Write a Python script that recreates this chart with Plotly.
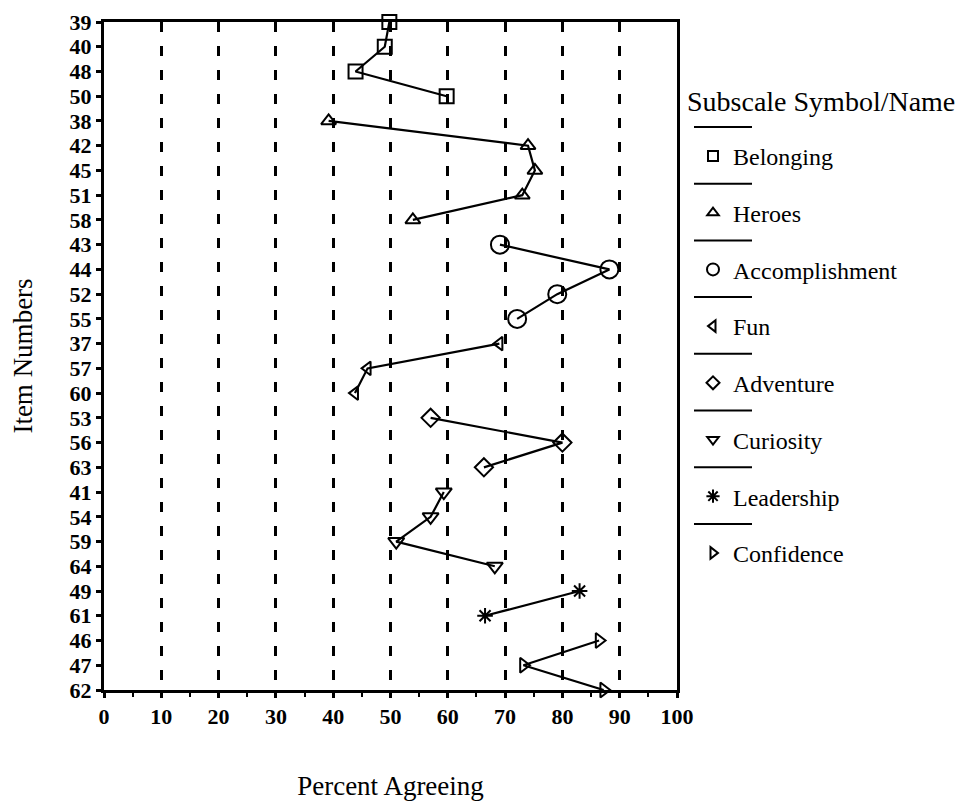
import plotly.graph_objects as go

# ---- data ----
item_order = ["39", "40", "48", "50", "38", "42", "45", "51", "58", "43", "44", "52", "55",
              "37", "57", "60", "53", "56", "63", "41", "54", "59", "64", "49", "61", "46", "47", "62"]

belonging_items = ["39", "40", "48", "50"]
belonging_pct = [49.8, 49.0, 43.9, 59.8]

heroes_items = ["38", "42", "45", "51", "58"]
heroes_pct = [39.2, 74.0, 75.2, 73.0, 53.9]

accomplishment_items = ["43", "44", "52", "55"]
accomplishment_pct = [69.1, 88.2, 79.1, 72.1]

fun_items = ["37", "57", "60"]
fun_pct = [69.0, 46.0, 43.8]

adventure_items = ["53", "56", "63"]
adventure_pct = [57.0, 80.0, 66.3]

curiosity_items = ["41", "54", "59", "64"]
curiosity_pct = [59.3, 57.0, 51.0, 68.2]

leadership_items = ["49", "61"]
leadership_pct = [83.0, 66.5]

confidence_items = ["46", "47", "62"]
confidence_pct = [86.4, 73.2, 87.2]

x_ticks = [0, 10, 20, 30, 40, 50, 60, 70, 80, 90, 100]

subscales = [
    ("Belonging", belonging_items, belonging_pct),
    ("Heroes", heroes_items, heroes_pct),
    ("Accomplishment", accomplishment_items, accomplishment_pct),
    ("Fun", fun_items, fun_pct),
    ("Adventure", adventure_items, adventure_pct),
    ("Curiosity", curiosity_items, curiosity_pct),
    ("Leadership", leadership_items, leadership_pct),
    ("Confidence", confidence_items, confidence_pct),
]

# ---- styles ----
symbols = {
    "Belonging": ("square-open", 14, 10),
    "Heroes": ("triangle-up-open", 13, 10),
    "Accomplishment": ("circle-open", 18, 12),
    "Fun": ("triangle-left-open", 12, 10),
    "Adventure": ("diamond-open", 14, 10),
    "Curiosity": ("triangle-down-open", 14, 10),
    "Leadership": ("asterisk-open", 13, 11),
    "Confidence": ("triangle-right-open", 13, 10),
}

SERIF = "Liberation Serif"
W, H = 955, 793
ML, MT = 96, 14
PLOT_W, PLOT_H = 573, 668
MR = W - ML - PLOT_W
MB = H - MT - PLOT_H

LEG_ITEM_FONT = 24
LEG_PITCH = 56.7
item_h = 1.3 * LEG_ITEM_FONT + 3


def px_to_paper_x(px):
    return (px - ML) / PLOT_W


def px_to_paper_y(py):
    return (MT + PLOT_H - py) / PLOT_H


fig = go.Figure()

for name, items, pct in subscales:
    sym, size, lsize = symbols[name]
    fig.add_trace(go.Scatter(
        x=pct, y=items, mode="lines+markers", name=name, showlegend=False,
        line=dict(color="black", width=2.2),
        marker=dict(symbol=sym, size=size, color="black", line=dict(color="black", width=2)),
        cliponaxis=False,
    ))

# legend entries (symbol + name); rules above each entry drawn as shapes
for name, items, pct in subscales:
    sym, size, lsize = symbols[name]
    fig.add_trace(go.Scatter(
        x=[None], y=[None], mode="markers", name=name, showlegend=True, legendgroup=name,
        marker=dict(symbol=sym, size=lsize, color="black", line=dict(color="black", width=2)),
    ))

shapes = []
for k in range(len(subscales)):
    yk = px_to_paper_y(119 + LEG_PITCH * k)
    shapes.append(dict(type="line", xref="paper", yref="paper",
                       x0=px_to_paper_x(686), x1=px_to_paper_x(744), y0=yk, y1=yk,
                       line=dict(color="black", width=2)))

fig.update_layout(
    width=W, height=H,
    margin=dict(l=ML, r=MR, t=MT, b=MB, autoexpand=False),
    paper_bgcolor="white", plot_bgcolor="white",
    font=dict(family=SERIF, color="black"),
    shapes=shapes,
    annotations=[dict(
        text="Subscale Symbol/Name", xref="paper", yref="paper",
        x=px_to_paper_x(677), y=px_to_paper_y(94), xanchor="left", yanchor="middle",
        showarrow=False, font=dict(family=SERIF, size=28, color="black"),
    )],
    legend=dict(
        x=px_to_paper_x(685), y=px_to_paper_y(145 - item_h / 2 - 2), xanchor="left", yanchor="top",
        font=dict(family=SERIF, size=LEG_ITEM_FONT, color="black"),
        bgcolor="rgba(0,0,0,0)", tracegroupgap=LEG_PITCH - item_h, itemwidth=30,
        traceorder="grouped",
    ),
    xaxis=dict(
        range=[0, 100], tickmode="array", tickvals=x_ticks,
        showline=True, linewidth=3, linecolor="black", mirror=True,
        ticks="outside", ticklen=5, tickwidth=3, tickcolor="black",
        minor=dict(dtick=5, ticks="outside", ticklen=4, tickwidth=2, tickcolor="black", showgrid=False),
        showgrid=True, gridcolor="black", gridwidth=2.7, griddash="10px,14px",
        zeroline=False,
        tickfont=dict(family=SERIF, size=22, color="black", weight="bold"),
        ticklabelstandoff=0,
        title=dict(text="Percent Agreeing", font=dict(family=SERIF, size=27, color="black"), standoff=50),
    ),
    yaxis=dict(
        type="category", categoryorder="array", categoryarray=item_order,
        range=[len(item_order) - 1, 0],
        tickmode="array", tickvals=item_order, ticktext=item_order,
        showline=True, linewidth=3, linecolor="black", mirror=True,
        ticks="outside", ticklen=5, tickwidth=3, tickcolor="black",
        showgrid=False, zeroline=False,
        tickfont=dict(family=SERIF, size=22, color="black", weight="bold"),
        title=dict(text="Item Numbers", font=dict(family=SERIF, size=27, color="black"), standoff=30),
    ),
)

fig.write_html("out.html")
